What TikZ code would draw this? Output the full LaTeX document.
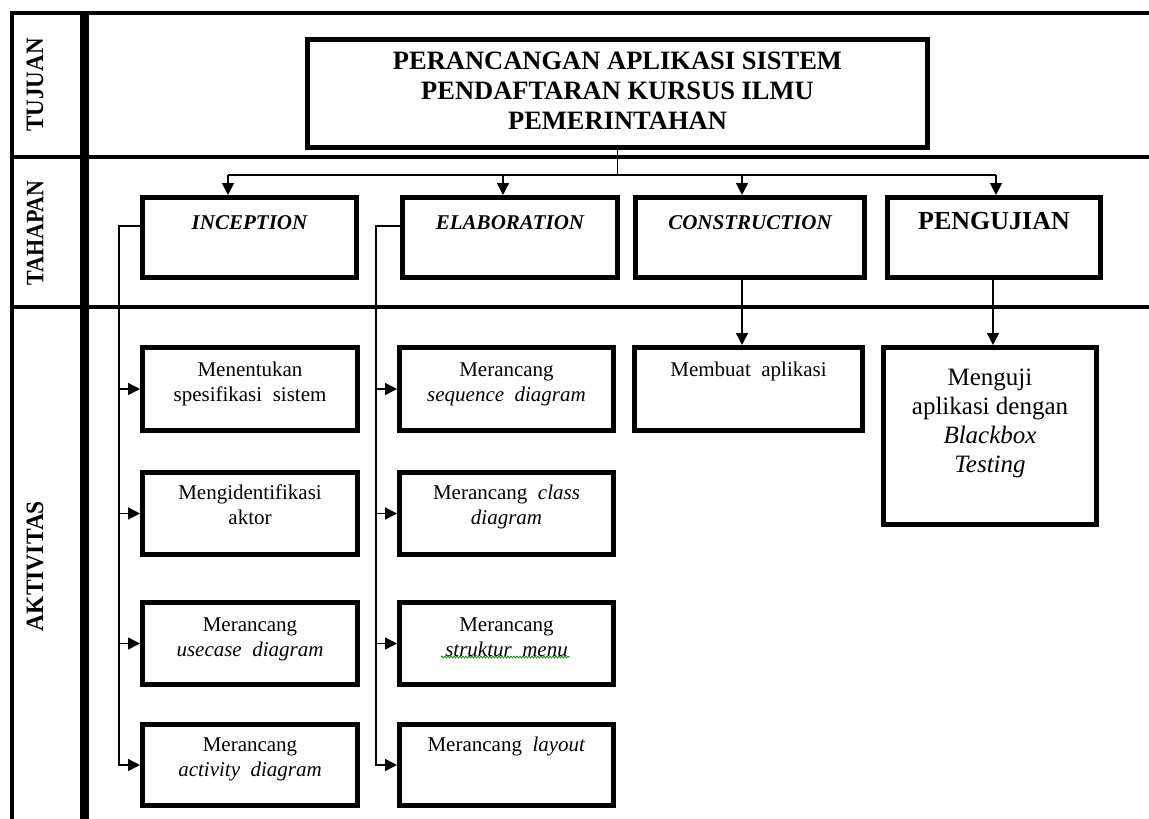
\documentclass[tikz,border=0pt]{standalone}
\usepackage{fontspec}
\setmainfont{Liberation Serif}
\usetikzlibrary{arrows.meta,decorations.pathmorphing,calc}
\begin{document}
\begin{tikzpicture}[x=1pt,y=-1pt,
  frameline/.style={line width=4.5pt},
  box/.style={draw, line width=5pt, rectangle, inner sep=0pt, anchor=north west},
  conn/.style={line width=1.4pt},
  arr/.style={conn, -{Triangle[length=12pt,width=12pt]}},
  lanelabel/.style={rotate=90, font=\fontsize{25}{28}\selectfont\bfseries, inner sep=0pt},
  titletext/.style={align=center, anchor=north, inner sep=0pt, font=\fontsize{26.5}{30}\selectfont\bfseries},
  phasetext/.style={anchor=base, inner sep=0pt, font=\fontsize{21}{25}\selectfont\bfseries\itshape},
  acttext/.style={align=center, anchor=north, inner sep=0pt, font=\fontsize{21}{25.5}\selectfont},
  bigtext/.style={align=center, anchor=north, inner sep=0pt, font=\fontsize{25}{29}\selectfont},
]
\useasboundingbox (0,0) rectangle (1149,819);

% frame
\draw[frameline] (12,819) -- (12,13) -- (1149,13);
\draw[frameline] (12,157) -- (1149,157);
\draw[frameline] (12,307) -- (1149,307);
\draw[line width=9pt] (84,13) -- (84,819);

% lane labels
\node[lanelabel] (lt) at (35,85) {\scalebox{0.92}[1]{TUJUAN}};
\node[lanelabel] (lp) at (35,233) {\scalebox{0.88}[1]{TAHAPAN}};
\node[lanelabel] (la) at (35,566) {\scalebox{0.94}[1]{AKTIVITAS}};

% title
\node[box, minimum width=620pt, minimum height=108pt] (title) at (305,37) {};
\node[titletext] (titlet) at ($(title.north)+(0,11)$) {\strut PERANCANGAN APLIKASI SISTEM\\PENDAFTARAN KURSUS ILMU\\PEMERINTAHAN};

% phases
\node[box, minimum width=214pt, minimum height=80pt] (inc) at (140,195) {};
\node[box, minimum width=215pt, minimum height=80pt] (ela) at (400,195) {};
\node[box, minimum width=229pt, minimum height=80pt] (con) at (633,195) {};
\node[box, minimum width=213pt, minimum height=80pt] (pen) at (885,195) {};
\node[phasetext] (inct) at ($(inc.north)+(0,34)$) {INCEPTION};
\node[phasetext] (elat) at ($(ela.north)+(0,34)$) {ELABORATION};
\node[phasetext] (cont) at ($(con.north)+(0,34)$) {CONSTRUCTION};
\node[phasetext, font=\fontsize{26}{30}\selectfont\bfseries] (pent) at ($(pen.north)+(0,34)$) {PENGUJIAN};

% activities column 1
\node[box, minimum width=215pt, minimum height=83pt] (a1) at (140,345) {};
\node[box, minimum width=215pt, minimum height=82pt] (a2) at (140,470) {};
\node[box, minimum width=215pt, minimum height=82pt] (a3) at (140,600) {};
\node[box, minimum width=215pt, minimum height=81pt] (a4) at (140,722) {};
\node[acttext] (a1t) at ($(a1.north)+(0,13)$) {\strut Menentukan\\spesifikasi\ \ sistem};
\node[acttext] (a2t) at ($(a2.north)+(0,11)$) {\strut Mengidentifikasi\\aktor};
\node[acttext] (a3t) at ($(a3.north)+(0,13)$) {\strut Merancang\\\textit{usecase\ \ diagram}};
\node[acttext] (a4t) at ($(a4.north)+(0,11)$) {\strut Merancang\\\textit{activity\ \ diagram}};

% activities column 2
\node[box, minimum width=214pt, minimum height=83pt] (b1) at (397,345) {};
\node[box, minimum width=214pt, minimum height=82pt] (b2) at (397,470) {};
\node[box, minimum width=214pt, minimum height=82pt] (b3) at (397,600) {};
\node[box, minimum width=214pt, minimum height=81pt] (b4) at (397,722) {};
\node[acttext] (b1t) at ($(b1.north)+(0,13)$) {\strut Merancang\\\textit{sequence\ \ diagram}};
\node[acttext] (b2t) at ($(b2.north)+(0,11)$) {\strut Merancang\ \ \textit{class}\\\textit{diagram}};
\node[acttext] (b3t) at ($(b3.north)+(0,13)$) {\strut Merancang\\\textit{struktur\ \ menu}};
\node[acttext] (b4t) at ($(b4.north)+(0,11)$) {\strut Merancang\ \ \textit{layout}};
\draw[green!55!black, line width=0.8pt, decorate, decoration={snake, amplitude=0.9pt, segment length=3pt}] (441,657) -- (570,657);

% activities column 3 and 4
\node[box, minimum width=228pt, minimum height=83pt] (c1) at (632,345) {};
\node[acttext] (c1t) at ($(c1.north)+(0,13)$) {\strut Membuat\ \ aplikasi};
\node[box, minimum width=213pt, minimum height=177pt] (d1) at (881,345) {};
\node[bigtext] (d1t) at ($(d1.north)+(0,20)$) {\strut Menguji\\aplikasi dengan\\\textit{Blackbox}\\\textit{Testing}};

% branch from title to phases
\coordinate (h1) at (228,175);
\coordinate (h2) at (503,175);
\coordinate (h3) at (742,175);
\coordinate (h4) at (996,175);
\draw[conn] (title.south) -- (title.south |- h1);
\draw[conn] (h1) -- (h4);
\draw[arr] (h1) -- (h1 |- inc.north);
\draw[arr] (h2) -- (h2 |- ela.north);
\draw[arr] (h3) -- (h3 |- con.north);
\draw[arr] (h4) -- (h4 |- pen.north);

% inception activities
\coordinate (v1) at (119,226);
\draw[arr] (inc.west |- v1) -- (v1) |- (a4.west);
\draw[arr] (v1 |- a1.west) -- (a1.west);
\draw[arr] (v1 |- a2.west) -- (a2.west);
\draw[arr] (v1 |- a3.west) -- (a3.west);

% elaboration activities
\coordinate (v2) at (376,226);
\draw[arr] (ela.west |- v2) -- (v2) |- (b4.west);
\draw[arr] (v2 |- b1.west) -- (b1.west);
\draw[arr] (v2 |- b2.west) -- (b2.west);
\draw[arr] (v2 |- b3.west) -- (b3.west);

% construction / pengujian activities
\draw[arr] (con.south -| h3) -- (h3 |- c1.north);
\coordinate (v4) at (993,300);
\draw[arr] (pen.south -| v4) -- (v4 |- d1.north);
\end{tikzpicture}
\end{document}
